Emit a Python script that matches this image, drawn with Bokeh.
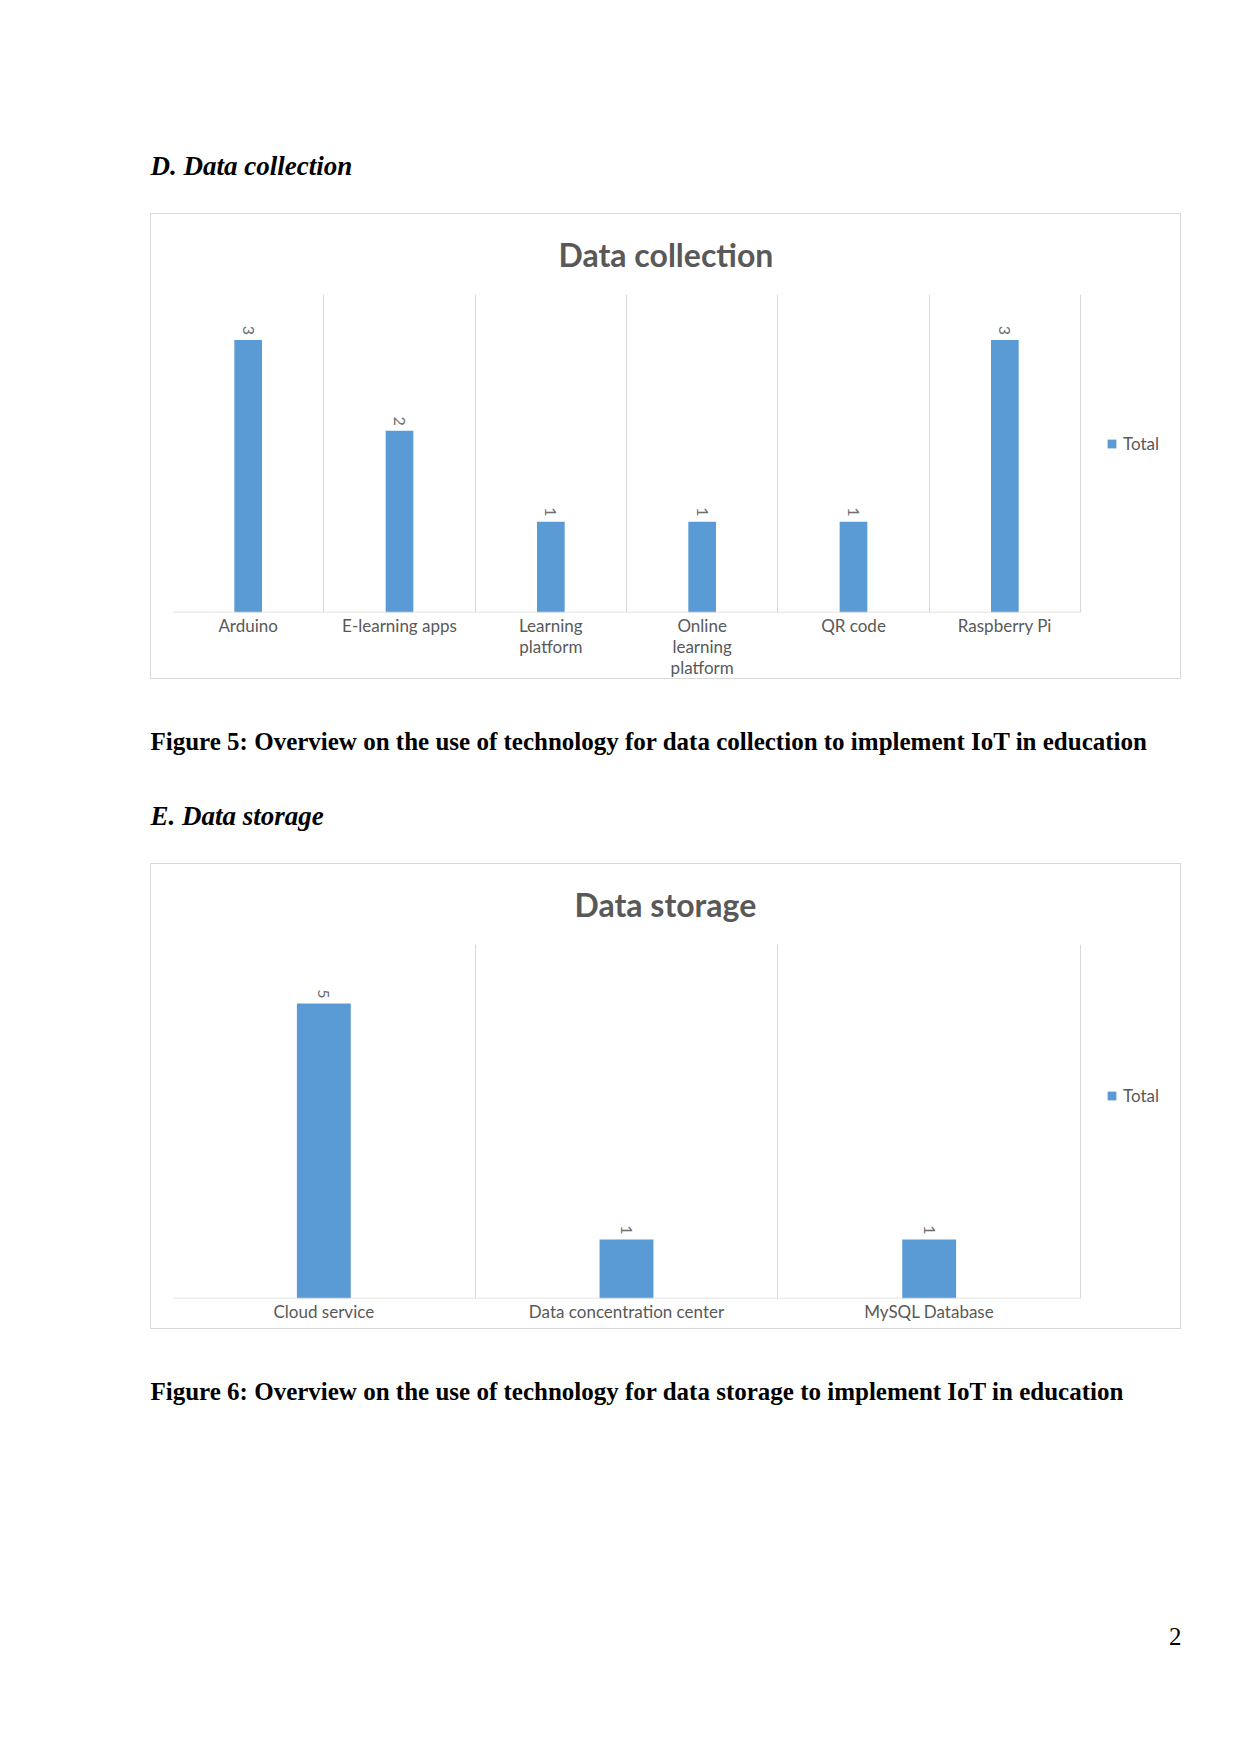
import math
from bokeh.plotting import figure
from bokeh.models import FixedTicker, Legend, LegendItem, Spacer, Range1d, Title
from bokeh.layouts import column, row
from bokeh.embed import file_html
from bokeh.resources import INLINE
from bokeh.core.properties import value

# ---- data ----
collection_categories = ["Arduino", "E-learning apps", "Learning platform",
                         "Online learning platform", "QR code", "Raspberry Pi"]
collection_tick_labels = ["Arduino", "E-learning apps", "Learning\nplatform",
                          "Online\nlearning\nplatform", "QR code", "Raspberry Pi"]
collection_totals = [3, 2, 1, 1, 1, 3]

storage_categories = ["Cloud service", "Data concentration center", "MySQL Database"]
storage_tick_labels = ["Cloud service", "Data concentration center", "MySQL Database"]
storage_totals = [5, 1, 1]

series_name = "Total"

BAR = "#5b9bd5"
GRID = "#d9d9d9"
TXT = "#595959"
SANS = "Lato"

# plot-area geometry (pixels)
FIG_W, FIG_H = 1031, 466
LEFT, RIGHT, TOP = 21, 6, 79
CAT_AREA_W = 908  # width covered by the categories


def chart(title, cats, tick_labels, vals, ymax, bar_frac, bottom, title_offset, legend_y):
    n = len(cats)
    xs = [i + 0.5 for i in range(n)]
    frame_w = FIG_W - LEFT - RIGHT
    x_end = n * frame_w / CAT_AREA_W
    p = figure(width=FIG_W, height=FIG_H, x_range=Range1d(0, x_end), y_range=Range1d(0, ymax),
               output_backend="svg", toolbar_location=None, y_axis_location=None,
               min_border_left=LEFT, min_border_right=RIGHT, min_border_top=TOP,
               min_border_bottom=bottom, outline_line_color=None)
    p.styles = {"border": "1px solid #d9d9d9"}
    p.title = Title(text=title, align="left", offset=title_offset, standoff=39,
                    vertical_align="middle",
                    text_font=SANS, text_font_size="32px", text_font_style="bold",
                    text_color=TXT)
    r = p.vbar(x=xs, top=vals, width=bar_frac, fill_color=BAR, line_color=None)
    p.segment(x0=[0], y0=[0], x1=[n], y1=[0], line_color=GRID, line_width=1.5)
    p.text(x=xs, y=vals, text=[str(v) for v in vals], angle=-math.pi / 2,
           text_align="right", text_baseline="middle", y_offset=-5,
           text_font=value(SANS), text_font_size="16px", text_color="#6f6f6f")
    ax = p.xaxis[0]
    ax.ticker = FixedTicker(ticks=xs)
    ax.major_label_overrides = {x: lab for x, lab in zip(xs, tick_labels)}
    ax.axis_line_color = None
    ax.major_tick_line_color = None
    ax.minor_tick_line_color = None
    ax.major_tick_out = 0
    ax.major_label_standoff = 2
    ax.major_label_text_font = SANS
    ax.major_label_text_font_size = "17px"
    ax.major_label_text_line_height = 1.0
    ax.major_label_text_color = TXT
    p.xgrid.ticker = FixedTicker(ticks=list(range(n + 1)))
    p.xgrid.grid_line_color = GRID
    p.ygrid.visible = False
    legend = Legend(items=[LegendItem(label=series_name, renderers=[r])],
                    location=(934, legend_y), padding=0, margin=0,
                    border_line_color=None, background_fill_alpha=0,
                    glyph_width=11, glyph_height=11, label_standoff=6, label_height=20,
                    label_text_font=SANS, label_text_font_size="17px",
                    label_text_color=TXT)
    p.add_layout(legend, "center")
    return p


def page_fig(h, items):
    f = figure(width=1241, height=h, x_range=Range1d(0, 1241), y_range=Range1d(h, 0),
               output_backend="svg", toolbar_location=None, min_border=0,
               outline_line_color=None, x_axis_location=None, y_axis_location=None)
    f.grid.visible = False
    for (x, y, txt, style, size, align) in items:
        f.text(x=[x], y=[y], text=[txt], text_font=value("Liberation Serif"),
               text_font_style=style, text_font_size=size, text_color="black",
               text_align=align, text_baseline="alphabetic")
    return f


top = page_fig(213, [(150, 165, "D. Data collection", "bold italic", "27px", "left")])
c1 = chart("Data collection", collection_categories, collection_tick_labels,
           collection_totals, 3.5, 0.183, 67, 386, 158)
mid = page_fig(184, [
    (150, 62, "Figure 5: Overview on the use of technology for data collection to implement IoT in education", "bold", "25px", "left"),
    (150, 136, "E. Data storage", "bold italic", "27px", "left"),
])
c2 = chart("Data storage", storage_categories, storage_tick_labels,
           storage_totals, 6, 0.178, 32, 402, 192)
bot = page_fig(425, [
    (150, 62, "Figure 6: Overview on the use of technology for data storage to implement IoT in education", "bold", "25px", "left"),
    (1181, 307, "2", "normal", "25px", "right"),
])

layout = column(
    top,
    row(Spacer(width=150, height=466), c1, Spacer(width=60, height=466)),
    mid,
    row(Spacer(width=150, height=466), c2, Spacer(width=60, height=466)),
    bot,
)

open("out.html", "w").write(file_html(layout, INLINE))
